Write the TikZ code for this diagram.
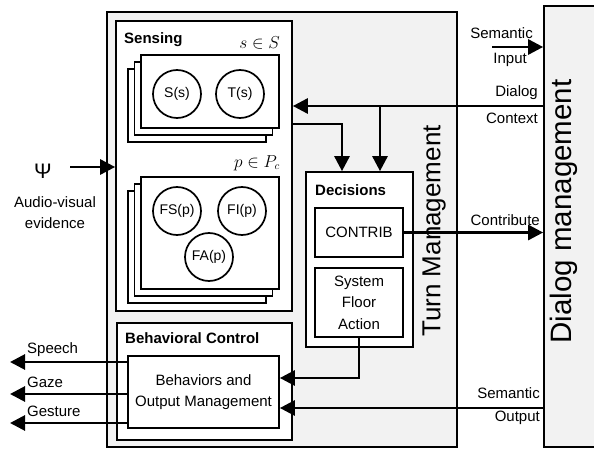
\documentclass[tikz,border=0pt]{standalone}
\usepackage{fontspec}
\setmainfont{Liberation Sans}
\usepackage{tikz}
\usetikzlibrary{arrows.meta,
                positioning,
                calc}
\definecolor{panelgray}{HTML}{F2F2F2}
\tikzset{block/.style=
   {rectangle,
    draw,
    line width=1.7pt,
    fill=white,
    text centered,
    inner sep=0pt}}
\tikzset{region/.style=
   {rectangle,
    draw,
    line width=1.7pt,
    fill=panelgray}}
\tikzset{unit/.style =
   {circle,
    draw,
    line width=1.7pt,
    fill=white,
    minimum size=48pt,
    inner sep=0pt,
    font=\fontsize{14}{15}\selectfont}}
\tikzset{lbl/.style =
   {inner sep=0pt,
    font=\fontsize{15}{21.5}\selectfont}}
\tikzset{heading/.style =
   {inner sep=0pt,
    anchor=west,
    font=\bfseries\fontsize{15}{18}\selectfont}}
\tikzset{arrow/.style = {draw, line width=2.8pt, -{Triangle[length=15pt,width=15pt]}}}

\begin{document}
\begin{tikzpicture}[x=1pt, y=-1pt, auto]
    \useasboundingbox (0,0) rectangle (594,449);

    \node [region, minimum width=350pt, minimum height=435pt] (turn) at (282,229.5) {};
    \node [region, minimum width=60pt, minimum height=441pt] (dialog) at (574,226.5) {};
    \node [lbl, rotate=90, font=\fontsize{26}{30}\selectfont] (turnlbl) at (434,231) {Turn Management};
    \node [lbl, rotate=90, font=\fontsize{29.5}{33}\selectfont] (dialoglbl) at (564,211.5) {Dialog management};

    \node [block, minimum width=176pt, minimum height=290pt] (sensing) at (204,166) {};
    \node [heading] (senstitle) at (124,40) {Sensing};
    \node [lbl, anchor=east, font=\fontsize{16}{18}\selectfont] (sset) at (280,43) {$s \in S$};
    \foreach \k in {2,1}
        \node [block, minimum width=138pt, minimum height=73pt] (stackS\k) at (210-6.5*\k, 91.5+7*\k) {};
    \node [block, minimum width=138pt, minimum height=73pt] (stackS) at (210,91.5) {};
    \node [unit] (Ss) at (177,94) {S(s)};
    \node [unit] (Ts) at (240,94) {T(s)};

    \node [lbl, anchor=east, font=\fontsize{16}{18}\selectfont] (pset) at (280,163) {$p \in P_c$};
    \foreach \k in {2,1}
        \node [block, minimum width=138pt, minimum height=112pt] (stackP\k) at (210-6.5*\k, 233+7*\k) {};
    \node [block, minimum width=138pt, minimum height=112pt] (stackP) at (210,233) {};
    \node [unit] (FSp) at (177,211) {FS(p)};
    \node [unit] (FIp) at (242,211) {FI(p)};
    \node [unit] (FAp) at (209,257) {FA(p)};

    \node [block, minimum width=175pt, minimum height=117pt] (behavctl) at (204.5,381.5) {};
    \node [heading] (behavtitle) at (125,338) {Behavioral Control};
    \node [block, lbl, minimum width=151pt, minimum height=72pt, align=center] (behav) at (203.5,392)
        {Behaviors and\\Output Management};

    \node [block, minimum width=107pt, minimum height=175pt] (decisions) at (359.5,259.5) {};
    \node [heading] (dectitle) at (315,190) {Decisions};
    \node [block, lbl, minimum width=88pt, minimum height=49pt] (contrib) at (359,232.5) {CONTRIB};
    \node [block, lbl, minimum width=88pt, minimum height=69pt, align=center] (sfa) at (359,302.5)
        {System\\Floor\\Action};

    \node [lbl, font=\fontsize{21}{22}\selectfont] (psi) at (43,171) {Ψ};
    \node [lbl, align=center] (avlbl) at (55,212.5) {Audio-visual\\evidence};
    \coordinate (psiout) at (70,167);
    \draw [arrow] (psiout) -- (psiout -| sensing.west);

    \coordinate (semin) at (492,47);
    \draw [arrow] (semin) -- (semin -| dialog.west);
    \node [lbl, anchor=east] (seminlbl) at (533,33) {Semantic};
    \node [lbl, anchor=east] (inputlbl) at (527,60) {Input};

    \coordinate (ctx) at (dialog.west |- 0,106);
    \coordinate (ctxsplit) at (380,106);
    \coordinate (sensout) at (sensing.east |- 0,124);
    \draw [arrow] (ctx) -- (ctx -| sensing.east);
    \draw [arrow] (ctxsplit) -- (ctxsplit |- decisions.north);
    \draw [arrow] (sensout) -| ([xshift=-17.5pt]decisions.north);
    \node [lbl, anchor=east] (dialoglbl2) at (538,93) {Dialog};
    \node [lbl, anchor=east] (contextlbl) at (538,118) {Context};

    \draw [arrow] (contrib.east) -- (contrib.east -| dialog.west);
    \node [lbl, anchor=east] (contriblbl) at (540,220) {Contribute};

    \draw [arrow] (sfa.south) |- ([yshift=14pt]behav.east);

    \coordinate (semout) at (dialog.west |- 0,408);
    \draw [arrow] (semout) -- (semout -| behav.east);
    \node [lbl, anchor=east] (semoutlbl) at (540,393) {Semantic};
    \node [lbl, anchor=east] (outputlbl) at (540,418) {Output};

    \coordinate (outend) at (10,0);
    \foreach \name/\d in {Speech/362, Gaze/394, Gesture/423}{
        \draw [arrow] (behav.west |- 0,\d) -- (outend |- 0,\d);
        \node [lbl, anchor=west] (out\name) at (27,\d-12) {\name};
    }

\end{tikzpicture}
\end{document}
